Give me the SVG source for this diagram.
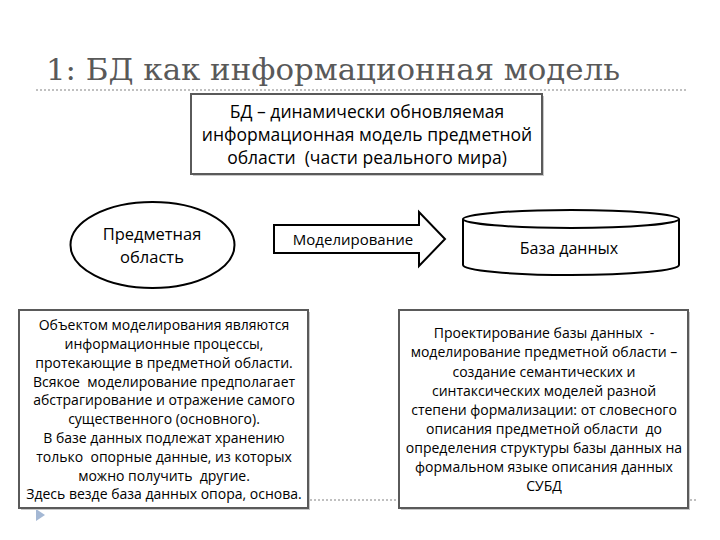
<svg xmlns="http://www.w3.org/2000/svg" width="720" height="540" viewBox="0 0 720 540">
<style>
.t{font-family:"Open Sans","DejaVu Sans",sans-serif;fill:#000;text-anchor:middle;white-space:pre}
.box{fill:#fff;stroke:#5a5a5a;stroke-width:2}
.sh{fill:#c8c8c8}
.shape{fill:#fff;stroke:#000;stroke-width:2}
.dot{stroke:#c0c0c0;stroke-width:2;stroke-dasharray:2 2;fill:none}
</style>
<rect width="720" height="540" fill="#fff"/>
<g id="title">
<text x="46" y="80" font-family="'DejaVu Serif','Liberation Serif',serif" font-size="30" fill="#595959" textLength="574" lengthAdjust="spacingAndGlyphs">1: БД как информационная модель</text>
<line class="dot" x1="36" y1="90" x2="688" y2="90"/>
</g>
<g id="footer">
<line class="dot" x1="30" y1="500" x2="697" y2="500"/>
<polygon points="36,509 45,515 36,521" fill="#a4b8d4"/>
</g>
<g id="definition">
<rect class="sh" x="193" y="96" width="351" height="80"/>
<rect class="box" x="191" y="94" width="351" height="80"/>
<text class="t" font-size="17.5" x="367" y="118" xml:space="preserve">БД – динамически обновляемая</text>
<text class="t" font-size="17.5" x="367" y="141" xml:space="preserve">информационная модель предметной</text>
<text class="t" font-size="17.5" x="367" y="164" xml:space="preserve">области  (части реального мира)</text>
</g>
<g id="connectors">
<g id="arrow">
<polygon class="shape" points="274,225 419,225 419,212 445,239 419,266 419,253 274,253"/>
<text class="t" font-size="15" x="353" y="245">Моделирование</text>
</g>
</g>
<g id="domain">
<ellipse class="shape" cx="152.5" cy="245" rx="82" ry="43"/>
<text class="t" font-size="16.5" x="152" y="240">Предметная</text>
<text class="t" font-size="16.5" x="152" y="263">область</text>
</g>
<g id="database">
<path class="shape" d="M463,219 L463,265 A108,10 0 0 0 679,265 L679,219"/>
<ellipse class="shape" cx="571" cy="219" rx="108" ry="9"/>
<text class="t" font-size="16" x="569" y="254">База данных</text>
</g>
<g id="note-left">
<rect class="sh" x="21" y="312" width="289" height="198"/>
<rect class="box" x="19" y="310" width="289" height="198"/>
<text class="t" font-size="14" x="164" y="330" xml:space="preserve">Объектом моделирования являются</text>
<text class="t" font-size="14" x="164" y="349" xml:space="preserve">информационные процессы,</text>
<text class="t" font-size="14" x="164" y="368" xml:space="preserve">протекающие в предметной области.</text>
<text class="t" font-size="14" x="164" y="387" xml:space="preserve">Всякое  моделирование предполагает</text>
<text class="t" font-size="14" x="164" y="405" xml:space="preserve">абстрагирование и отражение самого</text>
<text class="t" font-size="14" x="164" y="424" xml:space="preserve">существенного (основного).</text>
<text class="t" font-size="14" x="164" y="443" xml:space="preserve">В базе данных подлежат хранению</text>
<text class="t" font-size="14" x="164" y="462" xml:space="preserve">только  опорные данные, из которых</text>
<text class="t" font-size="14" x="164" y="481" xml:space="preserve">можно получить  другие.</text>
<text class="t" font-size="14" x="164" y="499" xml:space="preserve">Здесь везде база данных опора, основа.</text>
</g>
<g id="note-right">
<rect class="sh" x="401" y="312" width="289" height="198"/>
<rect class="box" x="399" y="310" width="289" height="198"/>
<text class="t" font-size="14" x="544" y="338" xml:space="preserve">Проектирование базы данных  -</text>
<text class="t" font-size="14" x="544" y="357" xml:space="preserve">моделирование предметной области –</text>
<text class="t" font-size="14" x="544" y="377" xml:space="preserve">создание семантических и</text>
<text class="t" font-size="14" x="544" y="396" xml:space="preserve">синтаксических моделей разной</text>
<text class="t" font-size="14" x="544" y="415" xml:space="preserve">степени формализации: от словесного</text>
<text class="t" font-size="14" x="544" y="434" xml:space="preserve">описания предметной области  до</text>
<text class="t" font-size="14" x="544" y="453" xml:space="preserve">определения структуры базы данных на</text>
<text class="t" font-size="14" x="544" y="472" xml:space="preserve">формальном языке описания данных</text>
<text class="t" font-size="14" x="544" y="491" xml:space="preserve">СУБД</text>
</g>
</svg>
